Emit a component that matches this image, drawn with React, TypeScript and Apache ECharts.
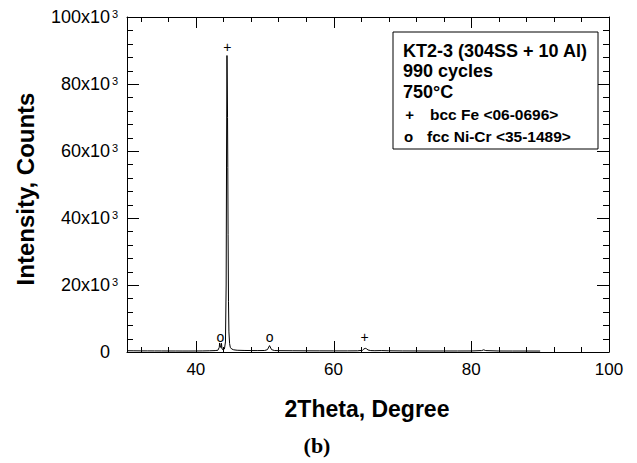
import React, { useEffect, useRef } from "react";
import * as echarts from "echarts";

// XRD scan: 2-theta (deg) vs. intensity (counts)
const twoTheta = [
  30, 31, 32, 33, 34, 35, 36, 37, 38, 39, 40, 41, 42, 42.8, 43.2, 43.4, 43.45, 43.55, 43.65, 43.72,
  43.8, 43.95, 44.15, 44.3, 44.4, 44.46, 44.52, 44.56, 44.6, 44.64, 44.68, 44.74, 44.8, 44.9, 45.0,
  45.2, 45.5, 46, 47, 48, 49, 50, 50.4, 50.6, 50.7, 50.8, 51.0, 51.4, 52, 54, 56, 58, 60, 62, 63.5,
  64.2, 64.4, 64.6, 64.8, 65.0, 65.4, 66, 67, 68, 70, 72, 74, 76, 78, 80, 81.5, 81.8, 82.1, 84, 86,
  88, 90,
];
const counts = [
  380, 360, 340, 330, 320, 310, 300, 300, 290, 290, 300, 320, 360, 420, 520, 1400, 2700, 1900, 1300, 2600,
  900, 700, 900, 3000, 20000, 60000, 88500, 80000, 70000, 55000, 35000, 15000, 6000, 2500, 1400,
  900, 650, 520, 460, 430, 420, 450, 700, 1500, 1900, 1500, 700, 450, 400, 370, 350, 340, 330, 330, 350,
  500, 900, 1100, 950, 600, 420, 380, 420, 360, 320, 310, 300, 300, 300, 310, 420, 650, 420, 300, 290,
  290, 280,
];

// Phase markers above the reflections
const markerTheta = [44.58, 43.57, 50.7, 64.5];
const markerCounts = [91000, 4600, 4600, 4600];
const markerGlyph = ["+", "o", "o", "+"];

// Axis ranges and tick positions
const X_MIN = 30;
const X_MAX = 100;
const Y_MIN = 0;
const Y_MAX = 100000;
const xMajor = [40, 60, 80, 100];
const xMinor = [32, 36, 44, 48, 52, 56, 64, 68, 72, 76, 84, 88, 92, 96];
const yMajor = [20000, 40000, 60000, 80000];
const yMinor = [
  4000, 8000, 12000, 16000, 24000, 28000, 32000, 36000, 44000, 48000, 52000, 56000,
  64000, 68000, 72000, 76000, 84000, 88000, 92000, 96000,
];

// Legend text
const sampleLines = ["KT2-3 (304SS + 10 Al)", "990 cycles", "750°C"];
const phaseSymbols = ["+", "o"];
const phaseNames = ["bcc Fe <06-0696>", "fcc Ni-Cr <35-1489>"];

const FONT = "Liberation Sans, Arial, Helvetica, sans-serif";
const BLACK = "#000";

const frameLine = () => ({ show: true, onZero: false, lineStyle: { color: BLACK, width: 1 } });

// Inward ticks on bottom and top edges at the given 2-theta values
function xTickSeries(values: number[], len: number) {
  return {
    type: "custom",
    xAxisIndex: 0,
    yAxisIndex: 0,
    silent: true,
    clip: false,
    data: values.map((v) => [v, Y_MIN]),
    itemStyle: { color: BLACK },
    renderItem: (_params: any, api: any) => {
      const v = api.value(0);
      const b = api.coord([v, Y_MIN]);
      const t = api.coord([v, Y_MAX]);
      const x = Math.round(b[0]) + 0.5;
      const style = { stroke: BLACK, lineWidth: 1 };
      return {
        type: "group",
        children: [
          { type: "line", shape: { x1: x, y1: b[1], x2: x, y2: b[1] - len }, style },
          { type: "line", shape: { x1: x, y1: t[1], x2: x, y2: t[1] + len }, style },
        ],
      };
    },
  };
}

// Inward ticks on left and right edges at the given intensities
function yTickSeries(values: number[], len: number) {
  return {
    type: "custom",
    xAxisIndex: 0,
    yAxisIndex: 0,
    silent: true,
    clip: false,
    data: values.map((v) => [X_MIN, v]),
    itemStyle: { color: BLACK },
    renderItem: (_params: any, api: any) => {
      const v = api.value(1);
      const l = api.coord([X_MIN, v]);
      const r = api.coord([X_MAX, v]);
      const y = Math.round(l[1]) + 0.5;
      const style = { stroke: BLACK, lineWidth: 1 };
      return {
        type: "group",
        children: [
          { type: "line", shape: { x1: l[0], y1: y, x2: l[0] + len, y2: y }, style },
          { type: "line", shape: { x1: r[0], y1: y, x2: r[0] - len, y2: y }, style },
        ],
      };
    },
  };
}

export default function App() {
  const ref = useRef<HTMLDivElement>(null);

  useEffect(() => {
    if (!ref.current) return;
    const chart = echarts.init(ref.current, undefined, { renderer: "svg" });

    const lineData = twoTheta.map((t, i) => [t, counts[i]]);
    const markerData = markerTheta.map((t, i) => [t, markerCounts[i]]);

    const graphic: any[] = [
      {
        type: "rect",
        shape: { x: 393, y: 32, width: 205, height: 117 },
        style: { fill: "#fff", stroke: BLACK, lineWidth: 1 },
        z: 10,
      },
      ...sampleLines.map((t, i) => ({
        type: "text",
        x: 403,
        y: [51, 71, 92][i],
        z: 11,
        style: { text: t, font: `bold 18px ${FONT}`, fill: BLACK, align: "left", verticalAlign: "middle" },
      })),
      ...phaseSymbols.map((s, i) => ({
        type: "text",
        x: [409.5, 408.5][i],
        y: [114.5, 136][i],
        z: 11,
        style: { text: s, font: `bold 15px ${FONT}`, fill: BLACK, align: "center", verticalAlign: "middle" },
      })),
      ...phaseNames.map((s, i) => ({
        type: "text",
        x: [430, 427][i],
        y: [114.5, 136][i],
        z: 11,
        style: { text: s, font: `bold 15.5px ${FONT}`, fill: BLACK, align: "left", verticalAlign: "middle" },
      })),
      {
        type: "text",
        x: 367,
        y: 409,
        style: { text: "2Theta, Degree", font: `bold 23px ${FONT}`, fill: BLACK, align: "center", verticalAlign: "middle" },
      },
      {
        type: "text",
        x: 25,
        y: 189,
        rotation: Math.PI / 2,
        style: { text: "Intensity, Counts", font: `bold 24px ${FONT}`, fill: BLACK, align: "center", verticalAlign: "middle" },
      },
      {
        type: "text",
        x: 317,
        y: 445,
        style: {
          text: "(b)",
          font: "bold 22px Liberation Serif, Times New Roman, serif",
          fill: BLACK,
          align: "center",
          verticalAlign: "middle",
        },
      },
    ];

    chart.setOption({
      animation: false,
      backgroundColor: "#fff",
      grid: { left: 127, top: 17, width: 482, height: 335 },
      xAxis: [
        {
          type: "value",
          min: X_MIN,
          max: X_MAX,
          position: "bottom",
          splitLine: { show: false },
          axisLine: frameLine(),
          axisTick: { show: false },
          axisLabel: {
            show: true,
            customValues: xMajor.slice(),
            margin: 9,
            color: BLACK,
            fontFamily: FONT,
            fontSize: 17,
          },
        },
        {
          type: "value",
          min: X_MIN,
          max: X_MAX,
          position: "top",
          splitLine: { show: false },
          axisLine: frameLine(),
          axisTick: { show: false },
          axisLabel: { show: false },
        },
      ],
      yAxis: [
        {
          type: "value",
          min: Y_MIN,
          max: Y_MAX,
          interval: 20000,
          position: "left",
          splitLine: { show: false },
          axisLine: frameLine(),
          axisTick: { show: false },
          axisLabel: {
            show: true,
            margin: 9,
            color: BLACK,
            formatter: (v: number) =>
              v === 0 ? "{m|0}{s| }" : `{m|${Math.round(v / 1000)}x10}{s|3}`,
            rich: {
              m: { fontFamily: FONT, fontSize: 18, color: BLACK },
              s: { fontFamily: FONT, fontSize: 11, color: BLACK, width: 8, verticalAlign: "top" },
            },
          },
        },
        {
          type: "value",
          min: Y_MIN,
          max: Y_MAX,
          interval: 20000,
          position: "right",
          splitLine: { show: false },
          axisLine: frameLine(),
          axisTick: { show: false },
          axisLabel: { show: false },
        },
      ],
      series: [
        xTickSeries(xMajor, 11),
        xTickSeries(xMinor, 5),
        yTickSeries(yMajor, 12),
        yTickSeries(yMinor, 6),
        {
          type: "line",
          xAxisIndex: 0,
          yAxisIndex: 0,
          data: lineData,
          showSymbol: false,
          lineStyle: { color: BLACK, width: 1 },
          itemStyle: { color: BLACK },
        },
        {
          type: "custom",
          xAxisIndex: 0,
          yAxisIndex: 0,
          data: markerData,
          itemStyle: { color: BLACK },
          renderItem: (params: any, api: any) => {
            const p = api.coord([api.value(0), api.value(1)]);
            return {
              type: "text",
              x: p[0],
              y: p[1],
              style: {
                text: markerGlyph[params.dataIndex],
                font: `14px ${FONT}`,
                fill: BLACK,
                align: "center",
                verticalAlign: "middle",
              },
            };
          },
        },
      ],
      graphic,
    });

    return () => chart.dispose();
  }, []);

  return (
    <div
      ref={ref}
      style={{ position: "fixed", left: 0, top: 0, width: 637, height: 463 }}
    />
  );
}
